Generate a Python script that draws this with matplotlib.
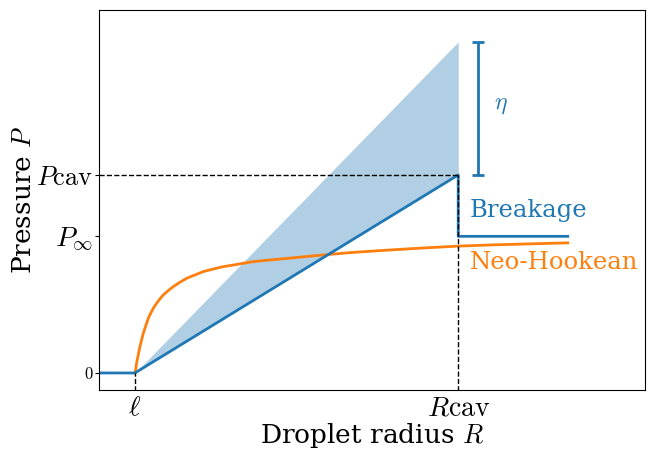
import matplotlib
matplotlib.use("Agg")
import matplotlib.pyplot as plt

plt.rcParams['mathtext.fontset'] = 'cm'
plt.rcParams['font.family'] = ['DejaVu Serif']

# data
ell = 1.0
R_cav = 10.0
P_cav = 1.0
P_inf = 0.69
P_top = 1.672
R_end = 13.05

breakage_x = [0.0, ell, R_cav, R_cav, R_end]
breakage_y = [0.0, 0.0, P_cav, P_inf, P_inf]

neo_x = [1.0, 1.028, 1.046, 1.074, 1.111, 1.139, 1.186, 1.232, 1.279, 1.325, 1.390,
         1.464, 1.511, 1.604, 1.696, 1.789, 1.928, 2.068, 2.253, 2.439, 2.671, 2.903,
         3.182, 3.460, 3.739, 4.018, 4.250, 4.482, 5.2, 6.0, 7.0, 8.0, 9.0, 10.05,
         11.0, 12.0, 13.05]
neo_y = [0.0, 0.024, 0.049, 0.074, 0.108, 0.133, 0.167, 0.200, 0.226, 0.251, 0.284,
         0.310, 0.327, 0.352, 0.374, 0.394, 0.416, 0.436, 0.458, 0.478, 0.495, 0.512,
         0.525, 0.537, 0.545, 0.554, 0.561, 0.566, 0.578, 0.592, 0.608, 0.620, 0.631,
         0.641, 0.647, 0.652, 0.657]

shade_x = [ell, R_cav]
shade_lo = [0.0, P_cav]
shade_hi = [0.0, P_top]

eta_x = 10.55

xtick_pos = [ell, R_cav]
xtick_labels = [r'$\ell$', r'$R\mathrm{cav}$']
ytick_pos = [0.0, P_inf, P_cav]
ytick_labels = [r'$0$', r'$P_\infty$', r'$P\mathrm{cav}$']

fig = plt.figure(figsize=(6.55, 4.59), dpi=100)
ax = fig.add_axes([99/655, 1-390/459, (645-99)/655, (390-10)/459])

ax.fill_between(shade_x, shade_lo, shade_hi, color='C0', alpha=0.35, lw=0)
ax.plot(neo_x, neo_y, color='C1', lw=2, solid_joinstyle='round')
ax.plot(breakage_x, breakage_y, color='C0', lw=2)

ax.plot([0, R_cav], [P_cav, P_cav], 'k--', lw=1)
ax.plot([R_cav, R_cav], [-0.2, P_cav], 'k--', lw=1)
ax.plot([ell, ell], [-0.2, 0], 'k--', lw=1)

mid = (P_cav + P_top) / 2
ax.errorbar([eta_x], [mid], yerr=[[mid - P_cav], [P_top - mid]], color='C0',
            elinewidth=2, capsize=4, capthick=2, fmt='none')
ax.text(11.2, 1.354, r'$\eta$', color='C0', fontsize=17, ha='center', va='center')

ax.text(10.33, 0.823, 'Breakage', color='C0', fontsize=17.5, ha='left', va='center')
ax.text(10.33, 0.56, 'Neo-Hookean', color='C1', fontsize=17.5, ha='left', va='center')

ax.set_xlim(0, 15.2)
ax.set_ylim(-0.086, 1.833)
ax.set_xticks(xtick_pos)
ax.set_xticklabels(xtick_labels, fontsize=20)
ax.set_yticks(ytick_pos)
ax.set_yticklabels(ytick_labels, fontsize=20)
ax.get_yticklabels()[0].set_fontsize(12)
ax.get_yticklabels()[2].set_fontsize(19)
ax.tick_params(axis='x', length=0, pad=3)
ax.tick_params(axis='y', length=3, pad=1)

ax.set_xlabel(r'Droplet radius $R$', fontsize=19, labelpad=0)
ax.set_ylabel(r'Pressure $P$', fontsize=19)
ax.yaxis.set_label_coords(-0.115, 0.5)

fig.savefig('out.png', dpi=100)
